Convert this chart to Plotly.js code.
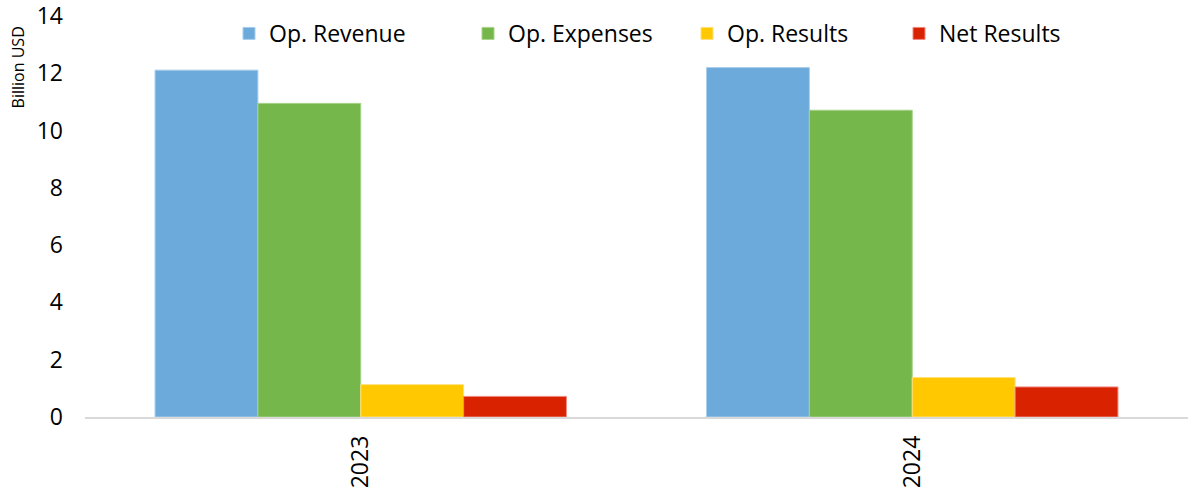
<!DOCTYPE html>
<html>
<head>
<meta charset="utf-8">
<script src="https://cdn.plot.ly/plotly-3.0.1.min.js"></script>
<style>html,body{margin:0;padding:0;background:#fff;}#chart{width:1188px;height:493px;}</style>
</head>
<body>
<div id="chart"></div>
<script>
const years = ["2023", "2024"];
const seriesNames = ["Op. Revenue", "Op. Expenses", "Op. Results", "Net Results"];
const opRevenue = [12.11, 12.20];
const opExpenses = [10.95, 10.71];
const opResults = [1.13, 1.38];
const netResults = [0.72, 1.05];
const yTicks = [0, 2, 4, 6, 8, 10, 12, 14];

const colors = ["#6CAADB", "#76B74B", "#FFC800", "#D92300"];
const borders = ["#A9CDEB", "#A6D38A", "#FFE07A", "#EE8A80"];
const values = [opRevenue, opExpenses, opResults, netResults];
const legendIds = ["legend", "legend2", "legend3", "legend4"];
const legendX = [229, 468, 687, 899];

const W = 1188, L = 85, R = 0, T = 15.5, B = 75.7;
const pw = W - L - R, ph = 493 - T - B;
const font = "'Open Sans', sans-serif";

const traces = seriesNames.map((n, i) => ({
  type: "bar",
  name: n,
  x: years,
  y: values[i],
  legend: legendIds[i],
  marker: {color: colors[i], line: {color: borders[i], width: 1}},
  hoverinfo: "skip"
}));

const layout = {
  width: W, height: 493,
  margin: {l: L, r: R, t: T, b: B},
  paper_bgcolor: "#fff", plot_bgcolor: "#fff",
  font: {family: font, size: 23, color: "#000"},
  barmode: "group",
  bargap: 0.254,
  bargroupgap: 0,
  xaxis: {
    type: "category",
    range: [-0.5, 1.5],
    tickangle: -90,
    showline: true, linecolor: "#D9D9D9", linewidth: 1.5,
    ticks: "", showgrid: false, zeroline: false,
    tickfont: {family: font, size: 23, color: "#000"},
    ticklabelstandoff: 8
  },
  yaxis: {
    range: [0, 14],
    tickvals: yTicks,
    ticktext: yTicks.map(String),
    showline: false, showgrid: false, zeroline: false, ticks: "",
    tickfont: {family: font, size: 23, color: "#000"},
    ticklabelstandoff: 21,
    ticklabeloverflow: "allow"
  },
  showlegend: true,
  annotations: [{
    text: "Billion USD",
    xref: "paper", yref: "paper",
    x: (18 - L) / pw, y: (493 - B - 67) / ph,
    xanchor: "center", yanchor: "middle",
    textangle: -90, showarrow: false,
    font: {family: font, size: 16, color: "#000"}
  }]
};
legendIds.forEach((id, i) => {
  layout[id] = {
    x: (legendX[i] - L) / pw, xanchor: "left",
    y: (493 - B - 33) / ph, yanchor: "middle",
    orientation: "h", bgcolor: "rgba(0,0,0,0)",
    font: {family: font, size: 23, color: "#000"},
    itemwidth: 30
  };
});

Plotly.newPlot("chart", traces, layout, {displayModeBar: false, staticPlot: true});
</script>
</body>
</html>
